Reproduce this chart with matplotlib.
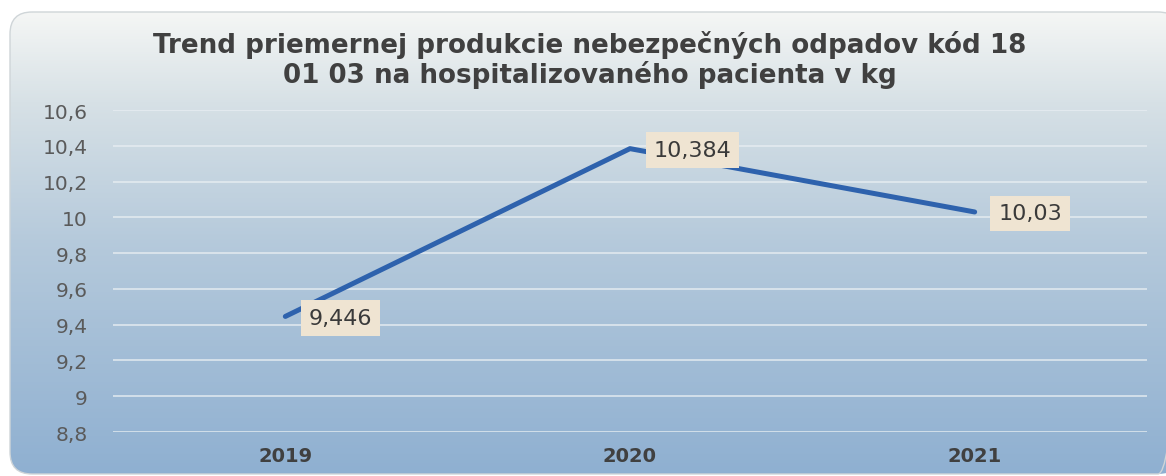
import numpy as np
import matplotlib
matplotlib.use('agg')
from matplotlib import pyplot as plt
from matplotlib.patches import FancyBboxPatch

# chart data
YEARS = ['2019', '2020', '2021']
VALUES = [9.446, 10.384, 10.03]
LABELS = ['9,446', '10,384', '10,03']
Y_TICKS = [8.8, 9.0, 9.2, 9.4, 9.6, 9.8, 10.0, 10.2, 10.4, 10.6]
Y_TICK_LABELS = ['8,8', '9', '9,2', '9,4', '9,6', '9,8', '10', '10,2', '10,4', '10,6']
TITLE = 'Trend priemernej produkcie nebezpečných odpadov kód 18\n01 03 na hospitalizovaného pacienta v kg'

W, H = 1166, 477

fig = plt.figure(figsize=(W / 100, H / 100), dpi=100)
fig.patch.set_facecolor('white')

# gradient background of the chart area (white on top, blue at bottom)
bg = fig.add_axes([0, 0, 1, 1], zorder=0)
bg.set_xlim(0, W)
bg.set_ylim(H, 0)
bg.axis('off')
stops = np.array([0.0, 0.2, 0.5, 1.0])
cols = np.array([[0.96, 0.965, 0.96],
                 [0.84, 0.88, 0.90],
                 [0.71, 0.79, 0.86],
                 [0.56, 0.69, 0.82]])
t = np.linspace(0, 1, 256)
grad = np.stack([np.interp(t, stops, cols[:, i]) for i in range(3)], axis=1)
img = bg.imshow(grad[:, None, :], extent=[9, 1166, 475, 13], aspect='auto')
frame = FancyBboxPatch((10, 13), 1170, 462, boxstyle='round,pad=0,rounding_size=22',
                       fc='none', ec='#cfd5d8', lw=1.0, transform=bg.transData)
bg.add_patch(frame)
img.set_clip_path(frame)

fig.text(0.506, 1 - 60 / H, TITLE, ha='center', va='center', fontsize=18.8,
         fontweight='bold', color='#404040', linespacing=1.06)

ax = fig.add_axes([113 / W, 1 - 433 / H, (1147 - 113) / W, (433 - 111) / H], zorder=1)
ax.patch.set_alpha(0)
x = np.arange(len(YEARS))
ax.plot(x, VALUES, color='#2e62ad', lw=3.6, solid_capstyle='round', zorder=3)

for xi, v, lab in zip(x, VALUES, LABELS):
    ax.annotate(lab, (xi, v), xytext=(17, -1), textcoords='offset points',
                ha='left', va='center', fontsize=16, color='#3a3a3a', zorder=4,
                bbox=dict(boxstyle='square,pad=0.35', fc='#efe4d2', ec='none'))

ax.set_xlim(-0.5, 2.5)
ax.set_ylim(8.8, 10.6)
ax.set_yticks(Y_TICKS)
ax.set_yticklabels(Y_TICK_LABELS, fontsize=14.5, color='#5a5a5a')
ax.set_xticks(x)
ax.set_xticklabels(YEARS, fontsize=14, fontweight='bold', color='#404040')
ax.tick_params(axis='y', length=0, pad=18)
ax.tick_params(axis='x', length=0, pad=10)
ax.grid(axis='y', color='#e8eef2', lw=1.2, alpha=0.85)
for s in ax.spines.values():
    s.set_visible(False)

plt.savefig('out.png', dpi=100)
